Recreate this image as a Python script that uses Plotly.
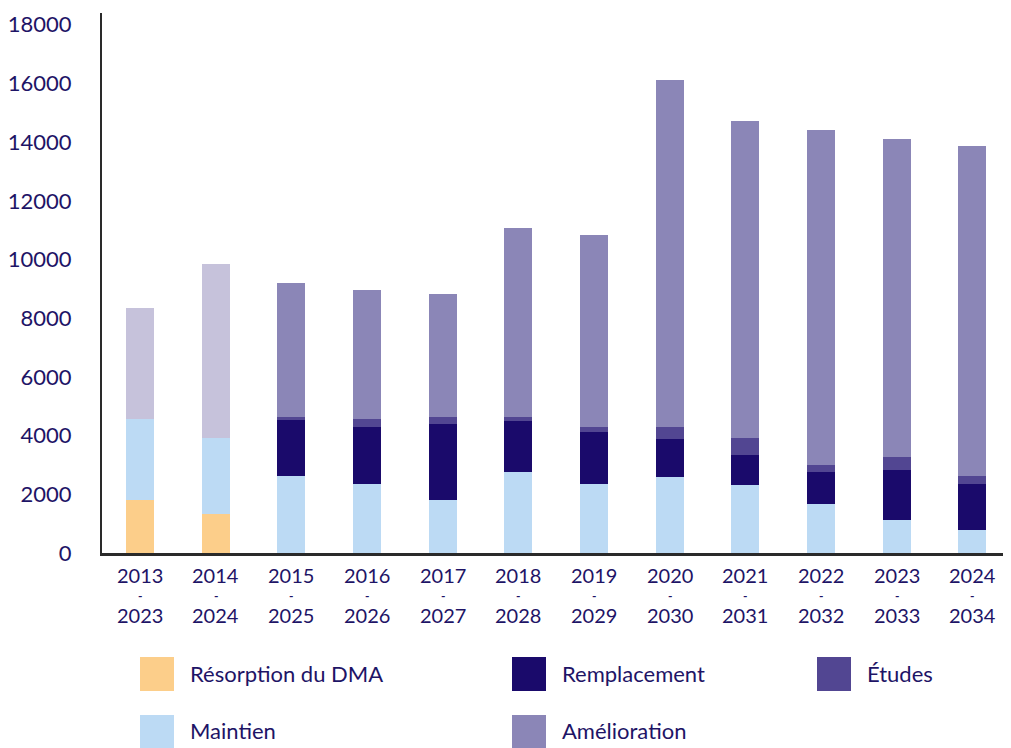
import plotly.graph_objects as go

starts = ["2013", "2014", "2015", "2016", "2017", "2018", "2019", "2020", "2021", "2022", "2023", "2024"]
ends = ["2023", "2024", "2025", "2026", "2027", "2028", "2029", "2030", "2031", "2032", "2033", "2034"]
categories = [f"{a}-{b}" for a, b in zip(starts, ends)]

resorption = [1820, 1340, 0, 0, 0, 0, 0, 0, 0, 0, 0, 0]
maintien = [2730, 2590, 2630, 2360, 1810, 2770, 2360, 2600, 2330, 1680, 1130, 790]
remplacement = [0, 0, 1910, 1950, 2600, 1740, 1780, 1300, 1020, 1090, 1710, 1570]
etudes = [0, 0, 100, 270, 240, 140, 170, 410, 580, 240, 440, 270]
amelioration = [3800, 5920, 4550, 4380, 4170, 6430, 6530, 11800, 10800, 11420, 10810, 11250]

y_ticks = [0, 2000, 4000, 6000, 8000, 10000, 12000, 14000, 16000, 18000]

C_RES = "#FCCE8A"
C_MAI = "#BCDAF4"
C_REM = "#1A0A6B"
C_ETU = "#524692"
C_AME = "#8B86B7"
C_AME_OLD = "#C6C2DB"
TXT = "#1E1466"
FONT = "Lato, Open Sans, sans-serif"

fig = go.Figure()
fig.add_bar(x=categories, y=resorption, name="Résorption du DMA", marker_color=C_RES)
fig.add_bar(x=categories, y=maintien, name="Maintien", marker_color=C_MAI)
fig.add_bar(x=categories, y=remplacement, name="Remplacement", marker_color=C_REM)
fig.add_bar(x=categories, y=etudes, name="Études", marker_color=C_ETU)
ame_colors = [C_AME_OLD if i < 2 else C_AME for i in range(len(categories))]
fig.add_bar(x=categories, y=amelioration, name="Amélioration", marker_color=ame_colors)
fig.update_traces(marker_line_width=0)

OFF = 8  # page body margin
W, H = 1011 - OFF, 748 - OFF
L, R, T, B = 94, 1, 5, 195
pw = W - L - R
ph = H - T - B


def px_x(px):
    return (px - OFF - L) / pw


def px_y(py):
    return (H - B - (py - OFF)) / ph


annotations = []
for c, a, b in zip(categories, starts, ends):
    annotations.append(dict(x=c, xref="x", y=px_y(575), yref="paper", text=a, showarrow=False,
                            yanchor="middle", font=dict(size=20, color=TXT, family=FONT)))
    annotations.append(dict(x=c, xref="x", y=px_y(595), yref="paper", text="<b>-</b>", showarrow=False,
                            yanchor="middle", font=dict(size=12, color=TXT, family=FONT)))
    annotations.append(dict(x=c, xref="x", y=px_y(615), yref="paper", text=b, showarrow=False,
                            yanchor="middle", font=dict(size=20, color=TXT, family=FONT)))

legend_items = [
    ("Résorption du DMA", C_RES, 140, 657),
    ("Remplacement", C_REM, 512, 657),
    ("Études", C_ETU, 817, 657),
    ("Maintien", C_MAI, 140, 715),
    ("Amélioration", C_AME, 512, 715),
]
shapes = []
for name, col, sx, sy in legend_items:
    shapes.append(dict(type="rect", xref="paper", yref="paper",
                       x0=px_x(sx), x1=px_x(sx + 34), y0=px_y(sy + 34), y1=px_y(sy),
                       fillcolor=col, line=dict(width=0)))
    annotations.append(dict(x=px_x(sx + 48), xref="paper", y=px_y(sy + 16), yref="paper",
                            text=name, showarrow=False, xanchor="left", yanchor="middle",
                            font=dict(size=22, color=TXT, family=FONT)))

fig.update_layout(
    barmode="stack",
    bargap=0.63,
    width=W, height=H,
    margin=dict(l=L, r=R, t=T, b=B),
    paper_bgcolor="white", plot_bgcolor="white",
    showlegend=False,
    font=dict(family=FONT, color=TXT, size=20),
    xaxis=dict(showticklabels=False, showline=True, linecolor="#2a2a2a", linewidth=3,
               showgrid=False, ticks="", range=[-0.5, 11.5]),
    yaxis=dict(range=[0, 18400], tickvals=y_ticks, ticktext=[str(v) for v in y_ticks],
               showline=True, linecolor="#2a2a2a", linewidth=2, showgrid=False, zeroline=False,
               ticks="", ticklabelstandoff=24, tickfont=dict(size=22, color=TXT, family=FONT)),
    annotations=annotations,
    shapes=shapes,
)

fig.write_html("out.html")
